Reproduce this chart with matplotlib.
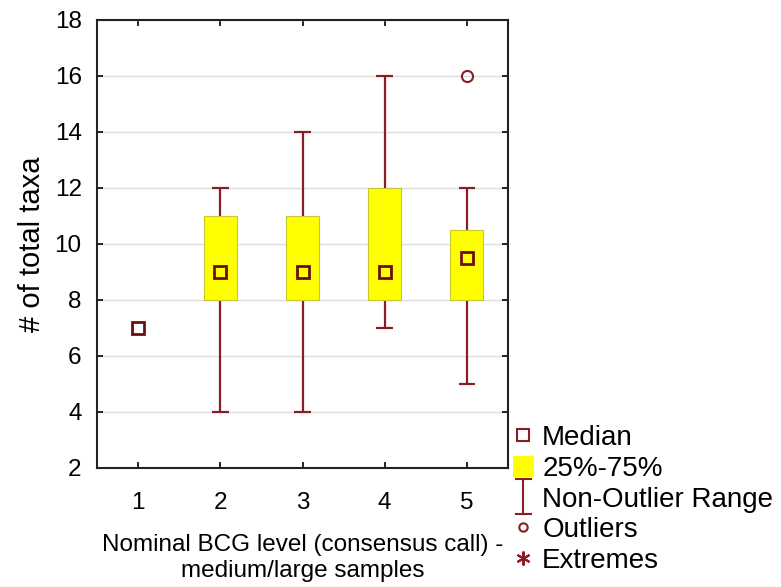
import matplotlib
matplotlib.use("Agg")
import matplotlib.pyplot as plt
from matplotlib.lines import Line2D
from matplotlib.patches import Patch, Rectangle
from matplotlib.legend_handler import HandlerBase

plt.rcParams['font.family'] = ['Liberation Sans', 'DejaVu Sans']

# BCG level groups
levels = [1, 2, 3, 4, 5]
medians = [7, 9, 9, 9, 9.5]
q25 = [7, 8, 8, 8, 8]
q75 = [7, 11, 11, 12, 10.5]
whisk_lo = [7, 4, 4, 7, 5]
whisk_hi = [7, 12, 14, 16, 12]
outlier_x = [5]
outlier_y = [16]

dark_red = '#8b1e24'
yellow = '#ffff00'

fig = plt.figure(figsize=(7.81, 5.87), dpi=100)
ax = fig.add_axes([97 / 781, 1 - 468 / 587, 411 / 781, 448 / 587])

box_w = 0.4
cap_w = 0.2
for x, m, lo, hi, wl, wh in zip(levels, medians, q25, q75, whisk_lo, whisk_hi):
    if hi > lo:
        ax.vlines(x, wl, lo, color=dark_red, lw=1.6, zorder=2)
        ax.vlines(x, hi, wh, color=dark_red, lw=1.6, zorder=2)
        ax.hlines([wl, wh], x - cap_w / 2, x + cap_w / 2, color=dark_red, lw=1.6, zorder=2)
        ax.add_patch(Rectangle((x - box_w / 2, lo), box_w, hi - lo,
                               facecolor=yellow, edgecolor='#c8c832', lw=0.8, zorder=3))
    ax.plot(x, m, marker='s', ms=9, mfc='none', mec='#6b1010', mew=2, zorder=4)

ax.plot(outlier_x, outlier_y, 'o', ms=8, mfc='none', mec=dark_red, mew=1.5, zorder=4)

ax.set_xlim(0.5, 5.5)
ax.set_ylim(2, 18)
ax.set_xticks(levels)
ax.set_yticks(range(2, 19, 2))
ax.tick_params(direction='in', length=4, width=1.2, top=True, right=True,
               labelsize=17.5)
ax.tick_params(axis='y', pad=11)
ax.tick_params(axis='x', pad=17)
ax.yaxis.grid(True, color='#dcdcdc', lw=1)
ax.set_axisbelow(True)
for s in ax.spines.values():
    s.set_linewidth(1.5)
    s.set_color('#222222')

ax.set_ylabel('# of total taxa', fontsize=21, labelpad=6)
ax.set_xlabel('Nominal BCG level (consensus call) -\nmedium/large samples',
              fontsize=17.5, labelpad=15, linespacing=1.2)


class RangeHandler(HandlerBase):
    def create_artists(self, legend, orig_handle, xdescent, ydescent,
                       width, height, fontsize, trans):
        cx = width / 2 - xdescent
        top = height * 1.3
        bot = -height * 0.35
        cw = width * 0.35
        arts = [Line2D([cx, cx], [bot, top]),
                Line2D([cx - cw, cx + cw], [top, top]),
                Line2D([cx - cw, cx + cw], [bot, bot])]
        for a in arts:
            a.set_color(dark_red)
            a.set_linewidth(1.5)
            a.set_transform(trans)
        return arts


range_handle = object()
handles = [
    Line2D([], [], ls='none', marker='s', ms=8, mfc='none', mec=dark_red, mew=1.5),
    Patch(facecolor=yellow, edgecolor='none'),
    range_handle,
    Line2D([], [], ls='none', marker='o', ms=6, mfc='none', mec=dark_red, mew=1.5),
    Line2D([], [], ls='none', marker=(6, 2, 0), ms=10, mec=dark_red, mew=1.5),
]
labels = ['Median', '25%-75%', 'Non-Outlier Range', 'Outliers', 'Extremes']
fig.legend(handles, labels, loc='upper left', bbox_to_anchor=(513 / 781, 1 - 425 / 587),
           frameon=False, fontsize=20, handlelength=0.75, handleheight=0.8,
           handletextpad=0.3, labelspacing=0.16, borderpad=0, borderaxespad=0,
           handler_map={range_handle: RangeHandler()})

fig.savefig('out.png', dpi=100)
